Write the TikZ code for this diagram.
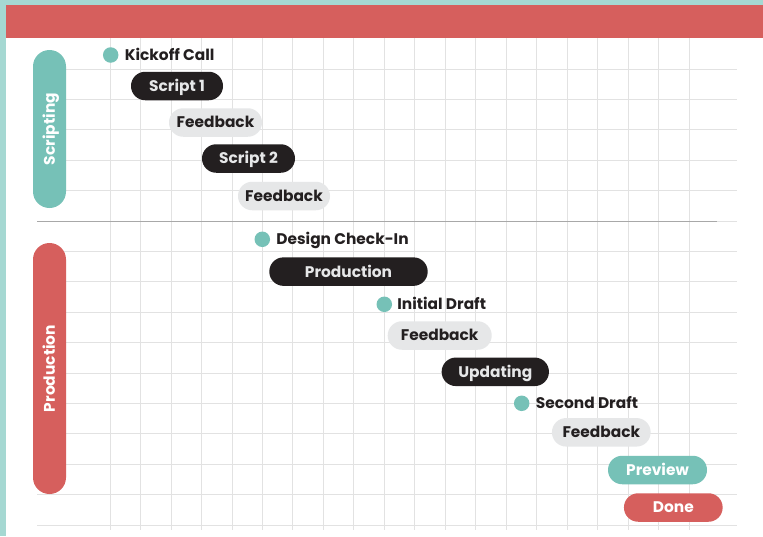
\documentclass[tikz,border=0pt]{standalone}
\usepackage{fontspec}
\setmainfont{Poppins}
\usepackage{tikz}
\usetikzlibrary{positioning}
\definecolor{rimteal}{HTML}{A5D8D2}
\definecolor{dotteal}{HTML}{76C1B7}
\definecolor{barred}{HTML}{D65F5D}
\definecolor{inkblack}{HTML}{231F20}
\definecolor{palegray}{HTML}{E6E7E8}
\definecolor{gridgray}{HTML}{E2E2E2}
\definecolor{sepgray}{HTML}{A8A8A8}

\begin{document}
\begin{tikzpicture}[x=1pt,y=-1pt,
    grid line/.style={draw=gridgray,line width=0.9pt},
    label font/.style={font=\bfseries\fontsize{15.4}{16}\selectfont,text height=10.8pt,text depth=0pt},
    dot node/.style={circle,fill=dotteal,inner sep=0pt,minimum size=15.5pt},
    milestone node/.style={label font,inner sep=0pt,text=inkblack},
    task node/.style={label font,rounded corners=14.2pt,minimum height=28.5pt,inner sep=0pt,
      fill=inkblack,text=palegray},
    review node/.style={task node,fill=palegray,text=inkblack},
    phase node/.style={label font,rounded corners=16.5pt,minimum height=33pt,inner sep=0pt,
      rotate=90,text=white}]
    \useasboundingbox (0,0) rectangle (763,536);
    \fill[white] (0,0) rectangle (763,536);
    \fill[rimteal] (0,0) rectangle (763,5);
    \fill[rimteal] (0,0) rectangle (6,536);
    \fill[barred] (6,5) rectangle (763,38);

    \foreach \i in {0,...,19}
      \draw[grid line] ({110+30.49*\i},38) -- ({110+30.49*\i},530);
    \foreach \k in {0,...,15}
      \draw[grid line] (37,{69+30.4*\k}) -- (737,{69+30.4*\k});
    \draw[draw=sepgray,line width=1pt] (37,221) -- (717,221);

    \node[phase node,fill=dotteal,minimum width=158pt] (s) at (49.5,129) {Scripting};
    \node[phase node,fill=barred,minimum width=251pt] (p) at (49.5,368.5) {Production};

    \node[dot node] (1) at (110.7,55) {};
    \node[milestone node] (2) [right=6pt of 1] {Kickoff Call};
    \node[task node,minimum width=92pt] (3) at (177,86) {Script 1};
    \node[review node,minimum width=93pt] (4) at (215.5,122.5) {Feedback};
    \node[task node,minimum width=93pt] (5) at (248.5,158.5) {Script 2};
    \node[review node,minimum width=92pt] (6) at (284,196) {Feedback};

    \node[dot node] (7) at (262.3,239.3) {};
    \node[milestone node] (8) [right=6pt of 7] {Design Check-In};
    \node[task node,minimum width=158.4pt] (9) at (348.5,271.6) {Production};
    \node[dot node] (10) at (384.3,304.3) {};
    \node[milestone node] (11) [right=5pt of 10] {Initial Draft};
    \node[review node,minimum width=104pt] (12) at (439.7,335.5) {Feedback};
    \node[task node,minimum width=107.3pt] (13) at (495.3,371.8) {Updating};
    \node[dot node] (14) at (521.7,403.3) {};
    \node[milestone node] (15) [right=6pt of 14] {Second Draft};
    \node[review node,minimum width=98.7pt] (16) at (601.3,432.3) {Feedback};
    \node[task node,fill=dotteal,text=white,minimum width=99pt] (17) at (657.5,470) {Preview};
    \node[task node,fill=barred,text=white,minimum width=98.7pt] (18) at (673.3,507.5) {Done};
\end{tikzpicture}
\end{document}
